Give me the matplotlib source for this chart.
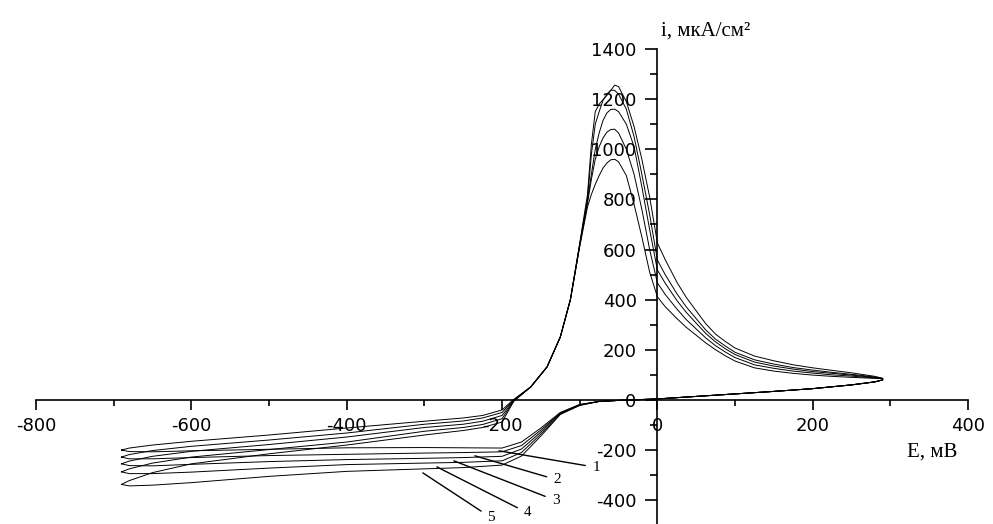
import numpy as np
import matplotlib as mpl
mpl.use("Agg")
import matplotlib.pyplot as plt
from matplotlib.ticker import MultipleLocator

mpl.rcParams['axes.unicode_minus'] = False

# potential grids, mV
E_fwd = [-690, -680, -650, -600, -500, -400, -300, -250, -200, -175, -150, -125,
         -100, -75, -50, -25, 0, 50, 100, 150, 200, 250, 280, 290]
E_rev = [290, 280, 265, 250, 225, 200, 175, 150, 125, 100, 88, 75, 62, 50, 37, 25,
         10, 0, -10, -20, -30, -40, -50, -55, -60, -65, -70, -75, -80, -85, -90,
         -100, -112, -125, -142, -163, -185, -200, -225, -250, -300, -400, -500,
         -600, -650, -680, -690]

# current density, uA/cm2 -- anodic sweep (forward) per cycle
i_fwd_1 = [-200, -206, -207, -203, -197, -191, -190, -191, -192, -168, -112, -50,
           -18, -6, -2, 1, 4, 14, 24, 34, 45, 60, 72, 80]
i_fwd_2 = [-228, -235, -235, -230, -222, -217, -212, -210, -207, -182, -120, -52,
           -19, -6, -2, 1, 4, 14, 24, 34, 45, 60, 72, 80]
i_fwd_3 = [-255, -262, -263, -257, -246, -238, -233, -230, -225, -196, -128, -54,
           -20, -6, -2, 1, 4, 14, 24, 34, 45, 60, 72, 80]
i_fwd_4 = [-287, -294, -294, -288, -272, -258, -252, -249, -243, -210, -136, -56,
           -21, -6, -2, 1, 4, 14, 24, 34, 45, 60, 72, 80]
i_fwd_5 = [-337, -343, -340, -330, -305, -285, -275, -270, -260, -224, -144, -58,
           -22, -6, -2, 1, 4, 14, 24, 34, 45, 60, 72, 80]

# cathodic sweep (reverse) per cycle
i_rev_1 = [85, 86, 88, 90, 94, 99, 106, 115, 128, 155, 175, 200, 228, 258, 290, 325,
           372, 411, 510, 650, 780, 895, 950, 960, 958, 945, 925, 895, 860, 820, 770,
           612, 399, 251, 132, 52, 2, -40, -62, -72, -85, -112, -140, -165, -180, -192, -200]
i_rev_2 = [85, 88, 91, 95, 100, 107, 115, 126, 140, 169, 190, 216, 248, 283, 321, 363,
           421, 467, 600, 760, 900, 1000, 1065, 1080, 1079, 1068, 1045, 1010, 960, 880, 785,
           615, 400, 251, 132, 52, 0, -50, -72, -84, -97, -132, -160, -185, -202, -218, -228]
i_rev_3 = [85, 90, 94, 99, 106, 113, 123, 135, 151, 181, 203, 231, 266, 306, 350, 397,
           466, 518, 680, 850, 1010, 1100, 1150, 1160, 1159, 1145, 1115, 1065, 1000, 900, 795,
           618, 400, 251, 132, 52, -2, -62, -85, -97, -110, -148, -178, -205, -225, -244, -255]
i_rev_4 = [86, 91, 97, 102, 110, 119, 129, 143, 160, 190, 214, 242, 280, 324, 372, 424,
           500, 558, 740, 900, 1050, 1160, 1220, 1235, 1236, 1220, 1195, 1150, 1100, 980, 800,
           622, 401, 251, 132, 52, -4, -75, -98, -110, -125, -168, -198, -228, -252, -275, -287]
i_rev_5 = [86, 94, 101, 108, 118, 128, 140, 156, 175, 207, 232, 262, 305, 355, 410, 470,
           560, 626, 810, 960, 1090, 1190, 1250, 1256, 1235, 1215, 1198, 1180, 1150, 1020, 820,
           625, 402, 252, 132, 52, -6, -88, -110, -122, -140, -180, -215, -255, -290, -322, -337]

fwd = [i_fwd_1, i_fwd_2, i_fwd_3, i_fwd_4, i_fwd_5]
rev = [i_rev_1, i_rev_2, i_rev_3, i_rev_4, i_rev_5]

# curve number labels: text position and leader line end
labels = ['1', '2', '3', '4', '5']
label_xy = [(-79, -269), (-129, -319), (-131, -401), (-167, -451), (-214, -470)]
leader_xy = [(-204, -203), (-235, -223), (-262, -243), (-284, -267), (-302, -291)]

fig = plt.figure(figsize=(9.93, 5.24), dpi=100)
ax = fig.add_axes([0.0363, 0.0, 0.9386, 0.9065])

for f, r in zip(fwd, rev):
    ax.plot(E_fwd + E_rev, f + r, color='k', lw=0.7)

for t, xy, lxy in zip(labels, label_xy, leader_xy):
    ax.annotate(t, xy=lxy, xytext=xy, ha='center', va='center',
                fontsize=11, family='Liberation Serif', annotation_clip=False,
                arrowprops=dict(arrowstyle='-', lw=1.0, color='k',
                                shrinkA=3, shrinkB=0))

ax.set_xlim(-800, 400)
ax.set_ylim(-495, 1400)

for s in ['top', 'right']:
    ax.spines[s].set_visible(False)
ax.spines['left'].set_position(('data', 0))
ax.spines['bottom'].set_position(('data', 0))
ax.spines['left'].set_linewidth(1.2)
ax.spines['bottom'].set_linewidth(1.2)

ax.xaxis.set_major_locator(MultipleLocator(200))
ax.xaxis.set_minor_locator(MultipleLocator(100))
ax.yaxis.set_major_locator(MultipleLocator(200))
ax.yaxis.set_minor_locator(MultipleLocator(100))
ax.tick_params(axis='x', which='major', direction='out', length=7, width=1.2, pad=5, labelsize=13)
ax.tick_params(axis='x', which='minor', direction='out', length=4, width=1.2)
ax.tick_params(axis='y', which='major', direction='out', length=9, width=1.2, pad=6, labelsize=13)
ax.tick_params(axis='y', which='minor', direction='out', length=5, width=1.2)

ax.text(5, 1452, 'i, мкА/см²', family='Liberation Serif', fontsize=15,
        ha='left', va='baseline')
ax.text(354, -207, 'E, мВ', family='Liberation Serif', fontsize=15,
        ha='center', va='center')

fig.savefig('out.png', dpi=100)
